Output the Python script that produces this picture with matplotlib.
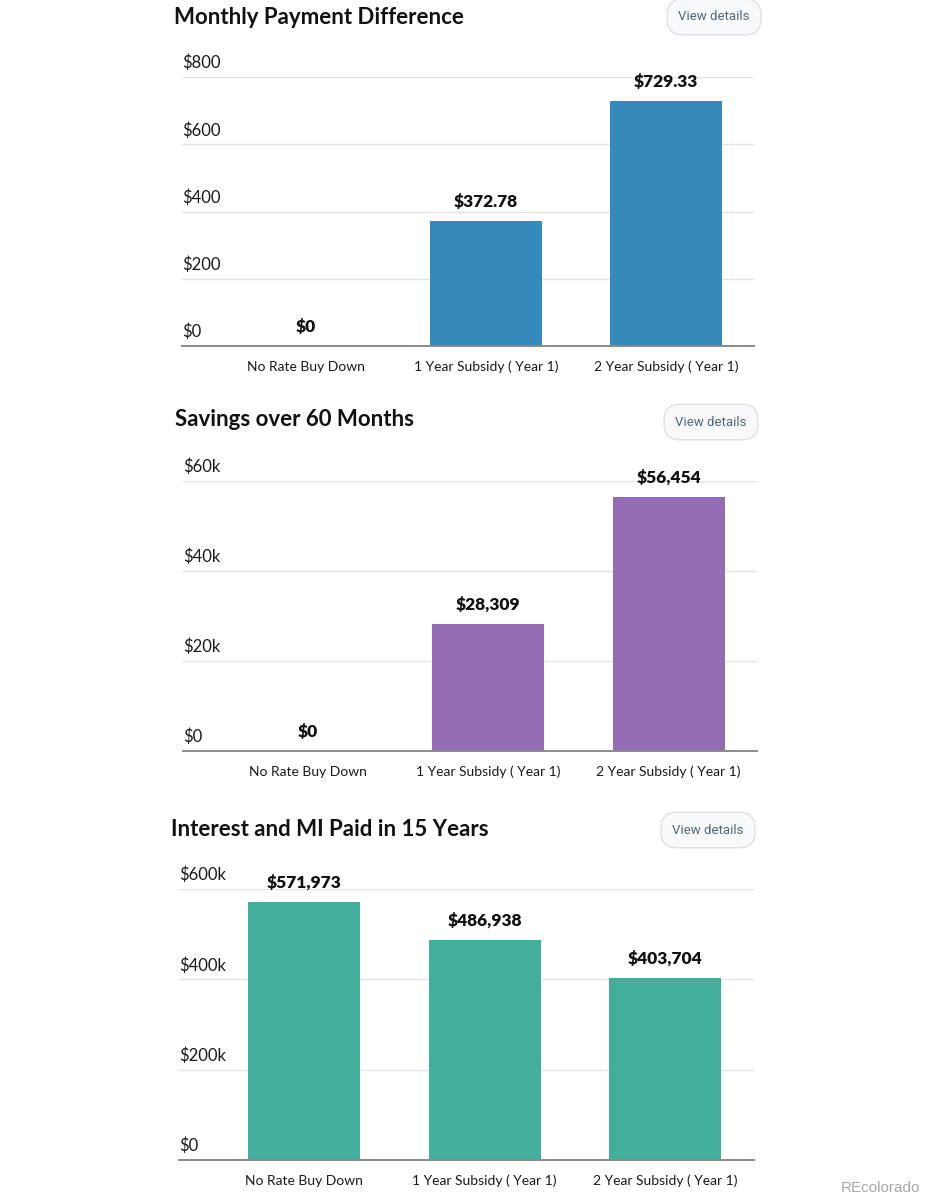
import matplotlib
matplotlib.use("Agg")
import matplotlib.pyplot as plt

W, H = 927, 1200

categories = ["No Rate Buy Down", "1 Year Subsidy ( Year 1)", "2 Year Subsidy ( Year 1)"]

monthly_diff = [0, 372.78, 729.33]
monthly_labels = ["$0", "$372.78", "$729.33"]
monthly_ticks = [0, 200, 400, 600, 800]
monthly_ticklabels = ["$0", "$200", "$400", "$600", "$800"]

savings_60 = [0, 28309, 56454]
savings_labels = ["$0", "$28,309", "$56,454"]
savings_ticks = [0, 20000, 40000, 60000]
savings_ticklabels = ["$0", "$20k", "$40k", "$60k"]

interest_15 = [571973, 486938, 403704]
interest_labels = ["$571,973", "$486,938", "$403,704"]
interest_ticks = [0, 200000, 400000, 600000]
interest_ticklabels = ["$0", "$200k", "$400k", "$600k"]

FONT = ["Lato", "DejaVu Sans"]
plt.rcParams["font.family"] = FONT

fig = plt.figure(figsize=(W / 100, H / 100), dpi=100)


def px_axes(left, right, top, bottom):
    return fig.add_axes([left / W, 1 - bottom / H, (right - left) / W, (bottom - top) / H])


def panel(box, title, title_xy, button_xy, values, labels, ticks, ticklabels, color):
    ax = px_axes(*box)
    x = list(range(len(values)))
    ax.bar(x, values, width=0.62, color=color, zorder=2)
    ax.set_xlim(-0.69, 2.49)
    ax.set_ylim(0, ticks[-1])
    for s in ["top", "right", "left"]:
        ax.spines[s].set_visible(False)
    ax.spines["bottom"].set_color("#8a8a8a")
    ax.spines["bottom"].set_linewidth(1.4)
    ax.spines["bottom"].set_zorder(3)
    ax.set_yticks(ticks)
    ax.set_yticklabels([])
    ax.tick_params(axis="y", length=0)
    ax.grid(axis="y", color="#e4e4e4", linewidth=1, zorder=0)
    ax.set_xticks(x)
    ax.set_xticklabels([])
    ax.tick_params(axis="x", length=0)
    # category labels on a common baseline
    for xi, cat in zip(x, categories):
        ax.annotate(cat, (xi, 0), xycoords=ax.get_xaxis_transform(), xytext=(0, -18),
                    textcoords="offset points", ha="center", va="baseline",
                    fontsize=10, color="#1a1a1a")
    for t, lab in zip(ticks, ticklabels):
        ax.annotate(lab, (0, t), xycoords=ax.get_yaxis_transform(), xytext=(0, 4),
                    textcoords="offset points", ha="left", va="bottom",
                    fontsize=12, color="#1a1a1a")
    for xi, v, lab in zip(x, values, labels):
        ax.annotate(lab, (xi, v), xytext=(0, 8), textcoords="offset points",
                    ha="center", va="bottom", fontsize=12.5, fontweight="heavy",
                    color="#111111", annotation_clip=False)
    fig.text(title_xy[0] / W, 1 - title_xy[1] / H, title, fontsize=16,
             fontweight="bold", ha="left", va="center", color="#111111")
    fig.text(button_xy[0] / W, 1 - button_xy[1] / H, "View details", fontsize=9.5,
             ha="center", va="center", color="#50687a",
             family=["Roboto", "DejaVu Sans"],
             bbox=dict(boxstyle="round,pad=0.85,rounding_size=1.2", facecolor="#f8f9fa",
                       edgecolor="#dde1e5", linewidth=1))
    return ax


panel((182, 754, 77, 346), "Monthly Payment Difference", (174, 17), (714, 17),
      monthly_diff, monthly_labels, monthly_ticks, monthly_ticklabels, "#3789b9")
panel((183, 757, 481, 751), "Savings over 60 Months", (175, 420), (711, 422),
      savings_60, savings_labels, savings_ticks, savings_ticklabels, "#946cb3")
panel((179, 754, 889, 1160), "Interest and MI Paid in 15 Years", (171, 829), (708, 830),
      interest_15, interest_labels, interest_ticks, interest_ticklabels, "#43ae9a")

fig.text(920 / W, 1 - 1188 / H, "REcolorado", fontsize=11, ha="right", va="center",
         color="#a8a8a8", family=["Liberation Sans", "DejaVu Sans"])

fig.savefig("out.png", dpi=100, facecolor="white")
